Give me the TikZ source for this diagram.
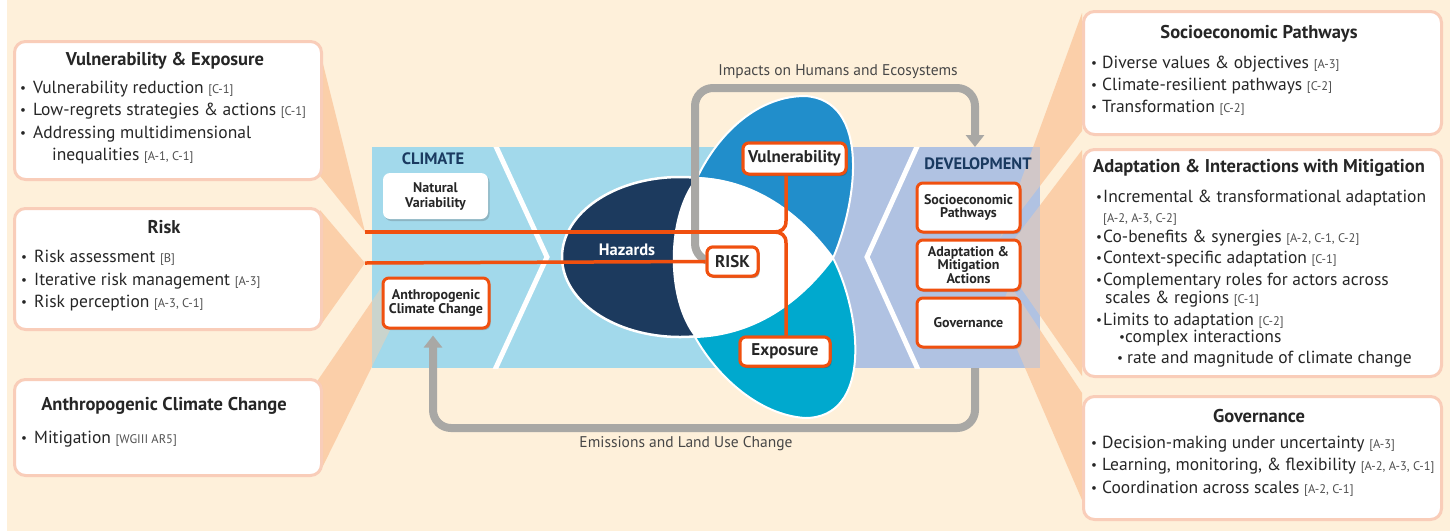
\documentclass[tikz,border=0pt]{standalone}
\usepackage{fontspec}
\setmainfont{PT Sans}
\usetikzlibrary{arrows.meta,shadows,calc}
\definecolor{cream}{HTML}{FEF0DA}
\definecolor{peach}{HTML}{FBCFA9}
\definecolor{boxline}{HTML}{F9CDB9}
\definecolor{panelblue}{HTML}{A2D9EB}
\definecolor{lav}{HTML}{B0C2E2}
\definecolor{navy}{HTML}{1A3A60}
\definecolor{hazc}{HTML}{1C3A5E}
\definecolor{vulc}{HTML}{218ECB}
\definecolor{expc}{HTML}{00A9CE}
\definecolor{orng}{HTML}{F0500F}
\definecolor{grayl}{HTML}{A9A8A5}
\definecolor{ink}{HTML}{262626}
\definecolor{citc}{HTML}{505050}
\newcommand\cit[1]{{\fontsize{12.5}{14}\selectfont\color{citc}[#1]}}
\newcommand\bu[1][12pt]{\makebox[#1][l]{\raisebox{0.5pt}{\scalebox{0.75}{\textbullet}}}}
\newcommand\mywedges[1]{%
  \fill[#1] (318,44) -- (365,232) -- (320,176) -- cycle;
  \fill[#1] (320,210) -- (365,263) -- (320,326) -- cycle;
  \fill[#1] (318,380) -- (383,285) -- (390,330) -- (320,472) -- cycle;
  \fill[#1] (1082,13) -- (1000,238) -- (1082,131) -- cycle;
  \fill[#1] (1082,150) -- (1000,258) -- (1082,376) -- cycle;
  \fill[#1] (1082,393) -- (1010,285) -- (1000,310) -- (1010,333) -- (1082,500) -- cycle;
}
\tikzset{
  txt/.style={inner sep=0pt, anchor=base west, font=\fontsize{17.5}{20}\selectfont, text=ink},
  ttl/.style={inner sep=0pt, anchor=base, font=\fontsize{18.5}{20}\selectfont\bfseries, text=ink},
  bigbox/.style={draw=boxline, line width=3pt, fill=white, rounded corners=11pt, anchor=north west, inner sep=0pt},
  shd/.style={drop shadow={shadow xshift=1.5pt, shadow yshift=-2pt, opacity=0.25, fill=black!70}},
  obox/.style={draw=orng, line width=3pt, fill=white, rounded corners=6pt, inner sep=0pt, shd,
     font=\fontsize{14}{13.5}\selectfont\bfseries, text=ink, align=center},
  cbox/.style={obox, font=\fontsize{17}{17}\selectfont\bfseries},
  wbox/.style={fill=white, rounded corners=7pt, inner sep=0pt, shd,
     font=\fontsize{14}{15}\selectfont\bfseries, text=ink, align=center},
  ptitle/.style={inner sep=0pt, font=\fontsize{16.5}{16}\selectfont\bfseries, text=navy},
  glabel/.style={inner sep=0pt, font=\fontsize{15.5}{16}\selectfont, text=ink!85},
  garrow/.style={draw=grayl, line width=8pt, rounded corners=18pt, -{Triangle[width=18pt,length=12pt]}},
  oline/.style={draw=orng, line width=3.5pt},
}
\begin{document}
\begin{tikzpicture}[x=1pt,y=-1pt]
\useasboundingbox (0,0) rectangle (1450,531);
\fill[white] (0,0) rectangle (1450,531);
\fill[cream] (7,0) rectangle (1450,531);
% wedges under panels
\mywedges{peach}
% panels
\fill[panelblue] (372,147) rectangle (800,368);
\fill[lav] (800,147) rectangle (1040,368);
\begin{scope}
  \clip (372,147) rectangle (1040,368);
  \draw[white, line width=5pt] (493,140) -- (547,257) -- (493,374);
  \draw[white, line width=5pt] (920,140) -- (867,257) -- (920,374);
  \mywedges{peach, opacity=0.45}
\end{scope}
% petals
\filldraw[fill=hazc, draw=white, line width=2.5pt] (680,257) ellipse [x radius=118pt, y radius=80pt];
\filldraw[fill=vulc, draw=white, line width=2pt] (833,258) .. controls (858,200) and (870,100) .. (805,96)
   .. controls (760,96) and (720,130) .. (697,178) .. controls (760,180) and (805,220) .. (833,258) -- cycle;
\filldraw[fill=expc, draw=white, line width=2pt] (833,258) .. controls (862,315) and (872,418) .. (805,418)
   .. controls (760,415) and (718,378) .. (695,337) .. controls (760,335) and (805,296) .. (833,258) -- cycle;
\fill[white] (697,177) .. controls (760,180) and (805,220) .. (833,258) .. controls (805,296) and (760,335) .. (695,337)
   .. controls (665,300) and (665,215) .. (697,177) -- cycle;
% coordinates
\coordinate (L1) at (365,232);
\coordinate (L2) at (365,263);
\coordinate (bt) at (774,232);
\coordinate (bx) at (786,0);
\coordinate (gtl) at (695,88);
\coordinate (devN) at (975,147);
\coordinate (devS) at (975,368);
\coordinate (gbl) at (433,428);
% center nodes
\node[cbox, minimum width=51pt, minimum height=29pt] (risk) at (732.5,261.5) {RISK};
% gray arrows
\draw[garrow] (risk.center) -| (gtl) -| (devN);
\node[wbox, minimum width=105pt, minimum height=46pt] (nv) at (435.5,196) {Natural\\Variability};
\node[obox, minimum width=106pt, minimum height=50pt] (acc) at (436,303) {Anthropogenic\\Climate Change};
\draw[garrow, shorten >=6pt] (devS) |- (gbl) -- (gbl |- acc.south);
% text on panels
\node[ptitle] (tclim) at (433,159) {CLIMATE};
\node[ptitle] (tdev) at (978,164) {DEVELOPMENT};
\node[inner sep=0pt, font=\fontsize{16.5}{16}\selectfont\bfseries, text=white] (haz) at (627,250) {Hazards};
% orange lines
\node[cbox, minimum width=103pt, minimum height=31pt] (vul) at (794.5,158.5) {Vulnerability};
\node[cbox, minimum width=90pt, minimum height=29pt] (expo) at (785,351.5) {Exposure};
\draw[oline] (L1) -- (bt);
\draw[oline] (vul.south -| bx) -- (786,221) .. controls (786,229) and (781,232) .. (bt)
   .. controls (781,232) and (786,235) .. (786,243) -- (expo.north -| bx);
\draw[oline] (L2) -- (risk.west);
% redraw center nodes on top
\node[cbox, minimum width=51pt, minimum height=29pt] (risk2) at (risk) {RISK};
\node[cbox, minimum width=103pt, minimum height=31pt] (vul2) at (vul) {Vulnerability};
\node[cbox, minimum width=90pt, minimum height=29pt] (expo2) at (expo) {Exposure};
% development nodes
\node[obox, minimum width=103pt, minimum height=49pt] (dsp) at (968.5,207.5) {Socioeconomic\\Pathways};
\node[obox, minimum width=103pt, minimum height=50pt, font=\fontsize{14}{12.5}\selectfont\bfseries] (dama) at (968.5,265) {Adaptation \&\\Mitigation\\Actions};
\node[obox, minimum width=103pt, minimum height=49pt] (dgov) at (968.5,322.5) {Governance};
% gray labels
\node[glabel] (limp) at (838,72) {Impacts on Humans and Ecosystems};
\node[glabel] (lemi) at (686,444) {Emissions and Land Use Change};
% left boxes
\node[bigbox, minimum width=307pt, minimum height=138pt] (bve) at (13,40) {};
\node[ttl] (tve) at (165,65) {Vulnerability \& Exposure};
\node[txt] (ve1) at (20,93) {\bu[13pt]Vulnerability reduction \cit{C-1}};
\node[txt] (ve2) at (20,115) {\bu[13pt]Low-regrets strategies \& actions \cit{C-1}};
\node[txt] (ve3) at (20,138) {\bu[13pt]Addressing multidimensional};
\node[txt] (ve4) at (52,160) {inequalities \cit{A-1, C-1}};
\node[bigbox, minimum width=307pt, minimum height=121pt] (brisk) at (13,207) {};
\node[ttl] (trisk) at (164,233) {Risk};
\node[txt] (r1) at (21,262) {\bu[13pt]Risk assessment \cit{B}};
\node[txt] (r2) at (21,285) {\bu[13pt]Iterative risk management \cit{A-3}};
\node[txt] (r3) at (21,307) {\bu[13pt]Risk perception \cit{A-3, C-1}};
\node[bigbox, minimum width=307pt, minimum height=96pt] (bacc) at (13,378) {};
\node[ttl] (tacc) at (164,410) {Anthropogenic Climate Change};
\node[txt] (a1) at (21,443) {\bu[13pt]Mitigation \cit{WGIII AR5}};
% right boxes
\node[bigbox, minimum width=358pt, minimum height=123pt] (bsp) at (1082,10) {};
\node[ttl] (tsp) at (1259,38) {Socioeconomic Pathways};
\node[txt] (s1) at (1091,68) {\bu[11pt]Diverse values \& objectives \cit{A-3}};
\node[txt] (s2) at (1091,90) {\bu[11pt]Climate-resilient pathways \cit{C-2}};
\node[txt] (s3) at (1091,112) {\bu[11pt]Transformation \cit{C-2}};
\node[bigbox, minimum width=358pt, minimum height=227pt] (bama) at (1082,148) {};
\node[ttl] (tama) at (1259,172) {Adaptation \& Interactions with Mitigation};
\node[txt] (m1) at (1096,202) {\bu[7pt]Incremental \& transformational adaptation};
\node[txt] (m2) at (1103,222) {\cit{A-2, A-3, C-2}};
\node[txt] (m3) at (1096,242) {\bu[7pt]Co-benefits \& synergies \cit{A-2, C-1, C-2}};
\node[txt] (m4) at (1096,263) {\bu[7pt]Context-specific adaptation \cit{C-1}};
\node[txt] (m5) at (1096,285) {\bu[7pt]Complementary roles for actors across};
\node[txt] (m6) at (1105,303) {scales \& regions \cit{C-1}};
\node[txt] (m7) at (1096,325) {\bu[7pt]Limits to adaptation \cit{C-2}};
\node[txt] (m8) at (1119,342) {\bu[6pt]complex interactions};
\node[txt] (m9) at (1117,363) {\bu[10pt]rate and magnitude of climate change};
\node[bigbox, minimum width=358pt, minimum height=123pt] (bgov) at (1082,395) {};
\node[ttl] (tgov) at (1259,422) {Governance};
\node[txt] (g1) at (1091,448) {\bu[11pt]Decision-making under uncertainty \cit{A-3}};
\node[txt] (g2) at (1091,470) {\bu[11pt]Learning, monitoring, \& flexibility \cit{A-2, A-3, C-1}};
\node[txt] (g3) at (1091,493) {\bu[11pt]Coordination across scales \cit{A-2, C-1}};
\end{tikzpicture}
\end{document}
